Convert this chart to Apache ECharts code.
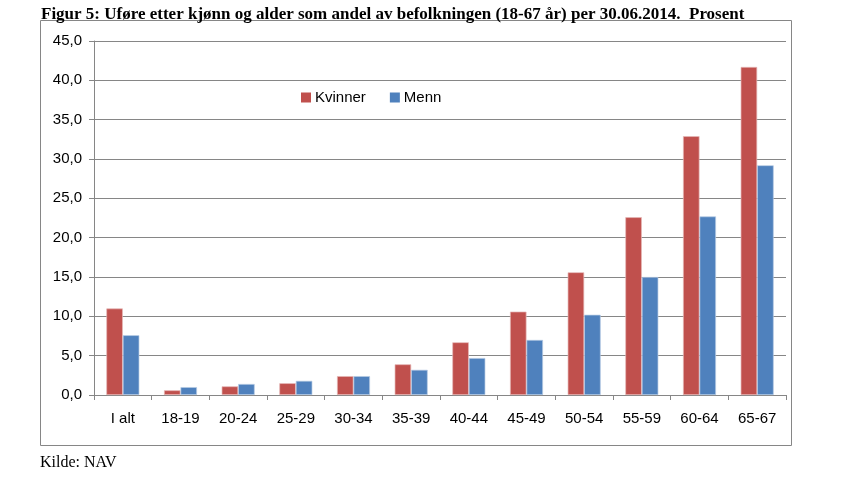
<!DOCTYPE html>
<html><head><meta charset="utf-8">
<script src="https://cdn.jsdelivr.net/npm/echarts@6/dist/echarts.min.js"></script>
<style>html,body{margin:0;padding:0;background:#fff}#c{width:862px;height:490px}</style>
</head><body><div id="c"></div>
<script>
const categories = ['I alt','18-19','20-24','25-29','30-34','35-39','40-44','45-49','50-54','55-59','60-64','65-67'];
const kvinner = [11.0, 0.6, 1.1, 1.5, 2.4, 3.9, 6.7, 10.6, 15.6, 22.6, 32.9, 41.7];
const menn = [7.6, 1.0, 1.4, 1.8, 2.4, 3.2, 4.7, 7.0, 10.2, 15.0, 22.7, 29.2];
const titleText = 'Figur 5: Uføre etter kjønn og alder som andel av befolkningen (18-67 år) per 30.06.2014.  Prosent';
const sourceText = 'Kilde: NAV';

const chart = echarts.init(document.getElementById('c'));
const gridColor = '#868686';
chart.setOption({
  animation: false,
  title: { text: titleText, left: 36, top: 1, textStyle: { fontFamily: 'Liberation Serif', fontWeight: 'bold', fontSize: 17, color: '#000' } },
  graphic: [
    { type: 'rect', shape: { x: 40.5, y: 20.5, width: 751, height: 425 }, style: { fill: 'none', stroke: gridColor, lineWidth: 1 }, z: 0 },
    { type: 'text', left: 40, top: 455, style: { text: sourceText, font: '16px "Liberation Serif"', fill: '#000' } }
  ],
  legend: {
    left: 296, top: 85, itemWidth: 10, itemHeight: 10, itemGap: 24,
    icon: 'rect',
    itemStyle: { borderWidth: 0 },
    textStyle: { fontFamily: 'Liberation Sans', fontSize: 15, color: '#000', padding: [0,0,0,-1] },
    data: ['Kvinner','Menn']
  },
  grid: { left: 94, right: 76, top: 41, bottom: 95, containLabel: false },
  xAxis: {
    type: 'category', data: categories,
    axisLine: { lineStyle: { color: gridColor, width: 1 } },
    axisTick: { show: true, length: 5, lineStyle: { color: gridColor } },
    axisLabel: { margin: 16, fontFamily: 'Liberation Sans', fontSize: 15, color: '#000' }
  },
  yAxis: {
    type: 'value', min: 0, max: 45, interval: 5,
    axisLine: { show: true, lineStyle: { color: gridColor, width: 1 } },
    axisTick: { show: true, length: 5, lineStyle: { color: gridColor } },
    splitLine: { lineStyle: { color: gridColor, width: 1 } },
    axisLabel: { margin: 12, fontFamily: 'Liberation Sans', fontSize: 15, color: '#000',
      formatter: v => v.toFixed(1).replace('.', ',') }
  },
  series: [
    { name: 'Kvinner', type: 'bar', data: kvinner, barWidth: 16.5, barGap: '0%',
      itemStyle: { color: '#C0504D', borderColor: '#E5B9B7', borderWidth: 0.7 } },
    { name: 'Menn', type: 'bar', data: menn, barWidth: 16.5, barGap: '0%',
      itemStyle: { color: '#4F81BD', borderColor: '#B8CCE4', borderWidth: 0.7 } }
  ]
});
</script></body></html>
